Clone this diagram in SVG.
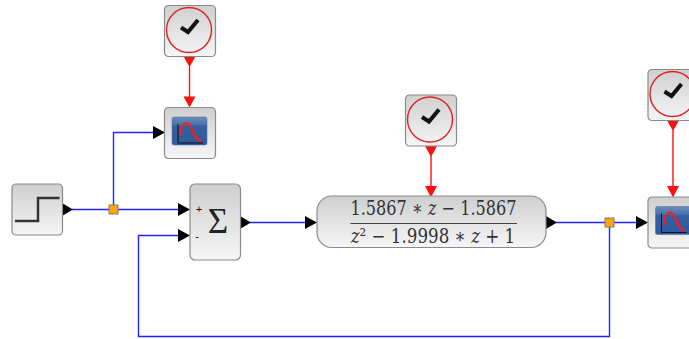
<svg xmlns="http://www.w3.org/2000/svg" width="689" height="339" viewBox="0 0 689 339">
<style>
.box{fill:url(#g);stroke:#8a8a8a;stroke-width:1.2}
.sig{fill:none;stroke:#2222ff;stroke-width:1.4}
.ev{fill:none;stroke:#ff1010;stroke-width:1.4}
.clockc{fill:none;stroke:#dd2228;stroke-width:1.4}
.tick{fill:none;stroke:#111;stroke-width:4;stroke-linejoin:miter}
.junction{fill:#ffa500;stroke:#7f7f7f;stroke-width:1}
.m{font-family:"DejaVu Serif","Liberation Serif",serif;fill:#333;font-size:20px;text-anchor:middle}
.it{font-style:italic}
</style>
<defs>
<linearGradient id="g" x1="0" y1="0" x2="0" y2="1"><stop offset="0" stop-color="#cfcfcf"/><stop offset="1" stop-color="#f6f6f6"/></linearGradient>
<linearGradient id="sc" x1="0" y1="0" x2="0" y2="1"><stop offset="0" stop-color="#6a8cba"/><stop offset="0.28" stop-color="#4a72ab"/><stop offset="0.32" stop-color="#36609f"/><stop offset="1" stop-color="#2b5a9e"/></linearGradient>
<g id="clock"><rect class="box" x="0.5" y="0.5" width="51" height="51" rx="4"/><circle class="clockc" cx="25" cy="25" r="22.5"/><path class="tick" d="M17 22.500L24 27L34 15"/></g>
<g id="scope"><rect class="box" x="0.500" y="0.500" width="51" height="51" rx="4"/><rect x="8" y="10" width="35" height="28" rx="2" fill="url(#sc)" stroke="#55749f" stroke-width="0.600"/><path d="M14 17V36H39" fill="none" stroke="#111" stroke-width="1"/><path d="M16 29C17 20 20 16 23 16C28 16 29 33 37 34" fill="none" stroke="#f02020" stroke-width="2.200"/></g>
</defs>
<rect width="689" height="339" fill="#fff"/>
<g id="connectors">
<path class="sig" d="M72 209.500H180"/>
<path class="sig" d="M113.500 209.500V132.500H154"/>
<path class="sig" d="M250 222.500H307"/>
<path class="sig" d="M556 222.500H638"/>
<path class="sig" d="M609.500 222.500V336.500H138.500V235.500H180"/>
<path class="ev" d="M189.500 66V97"/>
<path class="ev" d="M431 156V186"/>
<path class="ev" d="M673 130V187"/>
<g fill="#000">
<path d="M62 203L73 209.500L62 216Z"/>
<path d="M178 203L190 209.500L178 216Z"/>
<path d="M178 229L190 235.500L178 242Z"/>
<path d="M153 126L165 132.500L153 139Z"/>
<path d="M240 216L251 222.500L240 229Z"/>
<path d="M305 216L317 222.500L305 229Z"/>
<path d="M546 216L557 222.500L546 229Z"/>
<path d="M636 216L648 222.500L636 229Z"/>
</g>
<g fill="#ff1010">
<path d="M183.500 56.500H195.500L189.500 67Z"/>
<path d="M183.500 96.500H195.500L189.500 107.500Z"/>
<path d="M425 146H437L431 157Z"/>
<path d="M425 186H437L431 197.500Z"/>
<path d="M667 120.500H679L673 131Z"/>
<path d="M667 186H679L673 197.500Z"/>
</g>
</g>
<g id="clock1"><use href="#clock" x="164" y="5"/></g>
<g id="scope1"><use href="#scope" x="164" y="107"/></g>
<g id="step"><rect class="box" x="12" y="184" width="50.500" height="51" rx="4"/><path d="M15 221H38V198H59.500" fill="none" stroke="#333" stroke-width="2.500"/></g>
<g id="sum"><rect class="box" x="190" y="184" width="50.500" height="76" rx="5"/>
<text x="199" y="213" font-family="Liberation Sans, sans-serif" font-size="11" text-anchor="middle" fill="#111">+</text>
<text x="197" y="240" font-family="Liberation Sans, sans-serif" font-size="11" text-anchor="middle" fill="#111">-</text>
<text x="218" y="233" font-family="Liberation Serif, serif" font-size="35" text-anchor="middle" fill="#222">Σ</text></g>
<g id="transfer"><rect class="box" x="317" y="196" width="229" height="51.500" rx="15"/>
<text class="m" transform="translate(433.500 215) scale(0.806 1)">1.5867 ∗ <tspan class="it">z</tspan> − 1.5867</text>
<path d="M350.500 223.500H517" stroke="#444" stroke-width="1" fill="none"/>
<text class="m" transform="translate(433 243) scale(0.835 1)"><tspan class="it">z</tspan>² − 1.9998 ∗ <tspan class="it">z</tspan> + 1</text></g>
<g id="clock2"><use href="#clock" x="405" y="94.500"/></g>
<g id="clock3"><use href="#clock" x="647.500" y="69"/></g>
<g id="scope2"><use href="#scope" x="647.500" y="196.500"/></g>
<g id="junctions"><rect class="junction" x="109" y="205" width="9" height="9"/><rect class="junction" x="605" y="218" width="9" height="9"/></g>
</svg>
